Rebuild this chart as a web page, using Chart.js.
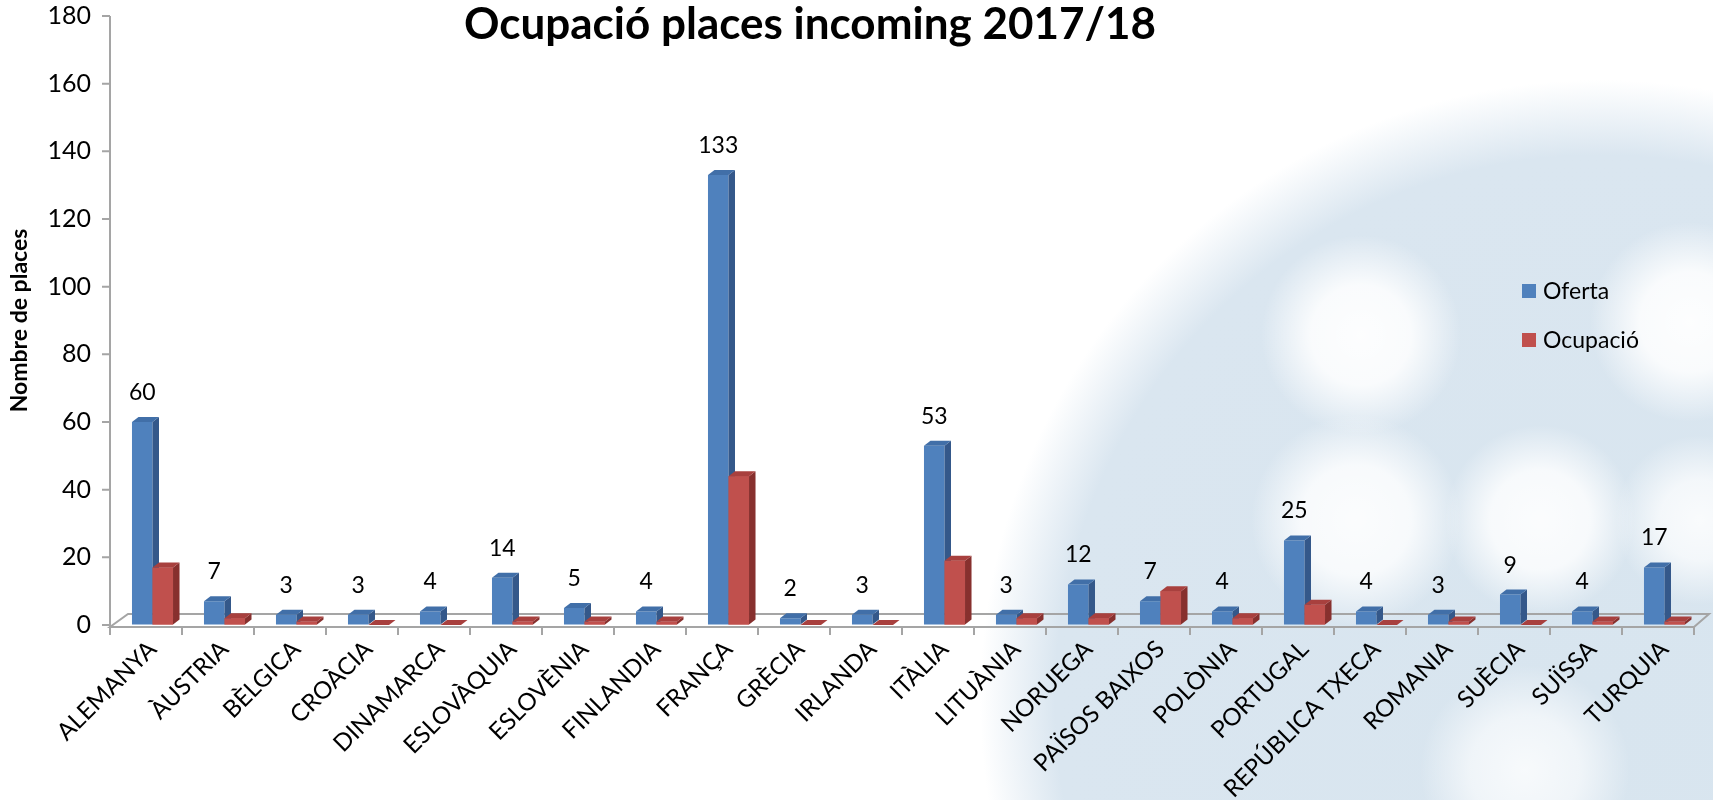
<!DOCTYPE html>
<html>
  <head>
    <meta charset="utf-8"/>
    <style>
      body {
        margin: 0;
        background:
          radial-gradient(circle at 1361px 335px, rgba(255,255,255,0.95) 0, rgba(255,255,255,0.85) 50px, rgba(255,255,255,0) 100px),
          radial-gradient(circle at 1690px 322px, rgba(255,255,255,0.95) 0, rgba(255,255,255,0.85) 50px, rgba(255,255,255,0) 100px),
          radial-gradient(circle at 1356px 520px, rgba(255,255,255,0.9) 0, rgba(255,255,255,0.8) 55px, rgba(255,255,255,0) 105px),
          radial-gradient(circle at 1540px 520px, rgba(255,255,255,0.9) 0, rgba(255,255,255,0.8) 50px, rgba(255,255,255,0) 95px),
          radial-gradient(circle at 1700px 520px, rgba(255,255,255,0.85) 0, rgba(255,255,255,0.7) 40px, rgba(255,255,255,0) 85px),
          radial-gradient(circle at 1525px 770px, rgba(255,255,255,0.8) 0, rgba(255,255,255,0.6) 55px, rgba(255,255,255,0) 105px),
          radial-gradient(circle at 1600px 700px, #d8e5ef 0, #dae6f0 545px, rgba(255,255,255,0) 620px),
          #ffffff;
      }
      #chart-holder { width: 1713px; height: 800px; }
    </style>
  </head>
  <body>
    <div id="chart-holder">
        <canvas id="chart-area" width="1713" height="800"></canvas>
    </div>

    <script src="https://cdn.jsdelivr.net/npm/chart.js@4.4.0/dist/chart.umd.min.js"></script>
    <script>
        var titleText = 'Ocupació places incoming 2017/18';
        var yTitle = 'Nombre de places';
        var countries = ['ALEMANYA', 'ÀUSTRIA', 'BÈLGICA', 'CROÀCIA', 'DINAMARCA', 'ESLOVÀQUIA',
                         'ESLOVÈNIA', 'FINLANDIA', 'FRANÇA', 'GRÈCIA', 'IRLANDA', 'ITÀLIA',
                         'LITUÀNIA', 'NORUEGA', 'PAÏSOS BAIXOS', 'POLÒNIA', 'PORTUGAL',
                         'REPÚBLICA TXECA', 'ROMANIA', 'SUÈCIA', 'SUÏSSA', 'TURQUIA'];
        var oferta   = [60, 7, 3, 3, 4, 14, 5, 4, 133, 2, 3, 53, 3, 12, 7, 4, 25, 4, 3, 9, 4, 17];
        var ocupacio = [17, 2, 1, 0, 0, 1, 1, 1, 44, 0, 0, 19, 2, 2, 10, 2, 6, 0, 1, 0, 1, 1];
        var yTicks = [0, 20, 40, 60, 80, 100, 120, 140, 160, 180];

        var FONT = 'Lato, "Open Sans", sans-serif';
        var AXIS_GREY = '#a5a5a5';

        // colours for the fake 3d faces: front, top, side
        var faces = [
            { front: '#4f81bd', top: '#416fa8', side: '#34588a' },
            { front: '#c0504d', top: '#a8403e', side: '#87302e' }
        ];
        var DX = 6.5, DY = 5;
        // the 3d view pushes the bars a little right of the front axis
        var SHIFT = 6.5;

        function drawFaces(ctx, p, f, withFront) {
            var l = p.x - p.width / 2, r = p.x + p.width / 2;
            if (withFront) {
                ctx.fillStyle = f.front;
                ctx.fillRect(l, p.y, p.width, p.base - p.y);
            }
            // side
            ctx.fillStyle = f.side;
            ctx.beginPath();
            ctx.moveTo(r, p.y);
            ctx.lineTo(r + DX, p.y - DY);
            ctx.lineTo(r + DX, p.base - DY);
            ctx.lineTo(r, p.base);
            ctx.closePath();
            ctx.fill();
            // top
            ctx.fillStyle = f.top;
            ctx.beginPath();
            ctx.moveTo(l, p.y);
            ctx.lineTo(l + DX, p.y - DY);
            ctx.lineTo(r + DX, p.y - DY);
            ctx.lineTo(r, p.y);
            ctx.closePath();
            ctx.fill();
        }

        var extras = {
            id: 'extras',
            beforeDatasetsDraw: function(chart) {
                var ctx = chart.ctx, a = chart.chartArea;
                var yScale = chart.scales.y;
                var left = a.left - SHIFT, right = a.right - SHIFT;
                ctx.save();
                ctx.strokeStyle = AXIS_GREY;
                ctx.lineWidth = 2;
                // floor of the 3d plot
                ctx.beginPath();
                ctx.moveTo(left, a.bottom + 2);
                ctx.lineTo(right, a.bottom + 2);
                ctx.lineTo(right + 15, a.bottom - 11);
                ctx.lineTo(left + 18, a.bottom - 11);
                ctx.closePath();
                ctx.stroke();
                // front y axis and its ticks
                ctx.beginPath();
                ctx.moveTo(left, a.top);
                ctx.lineTo(left, a.bottom + 2);
                yTicks.forEach(function(v) {
                    var py = yScale.getPixelForValue(v);
                    ctx.moveTo(left - 8, py);
                    ctx.lineTo(left, py);
                });
                // category ticks on the front edge
                var n = countries.length;
                for (var k = 0; k <= n; k++) {
                    var px = left + k * (right - left) / n;
                    ctx.moveTo(px, a.bottom + 2);
                    ctx.lineTo(px, a.bottom + 10);
                }
                ctx.stroke();
                ctx.restore();
            },
            afterDatasetsDraw: function(chart) {
                var ctx = chart.ctx;
                var blue = chart.getDatasetMeta(0).data;
                var red = chart.getDatasetMeta(1).data;
                ctx.save();
                // blue depth first, then the red bar sitting in front of it
                for (var i = 0; i < blue.length; i++) {
                    drawFaces(ctx, blue[i].getProps(['x', 'y', 'base', 'width'], true), faces[0], false);
                    drawFaces(ctx, red[i].getProps(['x', 'y', 'base', 'width'], true), faces[1], true);
                }
                // value labels on Oferta
                ctx.fillStyle = '#000';
                ctx.font = '23px ' + FONT;
                ctx.textAlign = 'center';
                ctx.textBaseline = 'alphabetic';
                blue.forEach(function(el, i) {
                    ctx.fillText(String(oferta[i]), el.x, el.y - 22);
                });
                // title
                ctx.font = 'bold 44px ' + FONT;
                ctx.fillText(titleText, 810, 39);
                // legend
                ctx.textAlign = 'left';
                ctx.textBaseline = 'middle';
                ctx.font = '23px ' + FONT;
                chart.data.datasets.forEach(function(ds, i) {
                    var cy = 291 + i * 49;
                    ctx.fillStyle = faces[i].front;
                    ctx.fillRect(1522, cy - 7, 14, 14);
                    ctx.fillStyle = '#000';
                    ctx.fillText(ds.label, 1543, cy + 1);
                });
                ctx.restore();
            }
        };

        var ctx = document.getElementById('chart-area').getContext('2d');
        var chart = new Chart(ctx, {
            type: 'bar',
            data: {
                labels: countries,
                datasets: [{
                    label: 'Oferta',
                    data: oferta,
                    backgroundColor: faces[0].front
                }, {
                    label: 'Ocupació',
                    data: ocupacio,
                    backgroundColor: faces[1].front
                }]
            },
            options: {
                responsive: false,
                animation: false,
                layout: { padding: { top: 16, right: 19 - SHIFT, left: 0, bottom: 0 } },
                datasets: {
                    bar: { categoryPercentage: 0.57, barPercentage: 1.0 }
                },
                plugins: {
                    legend: { display: false },
                    title: { display: false },
                    tooltip: { enabled: false }
                },
                scales: {
                    x: {
                        offset: true,
                        border: { display: false },
                        grid: {
                            offset: true,
                            drawOnChartArea: false,
                            color: 'rgba(0,0,0,0)',
                            tickLength: 9
                        },
                        ticks: {
                            autoSkip: false,
                            minRotation: 45,
                            maxRotation: 45,
                            padding: 1,
                            color: '#000',
                            font: { family: FONT, size: 24 }
                        },
                        afterFit: function(scale) { scale.height = 175; }
                    },
                    y: {
                        min: 0,
                        max: 180,
                        border: { display: false },
                        grid: {
                            drawOnChartArea: false,
                            color: 'rgba(0,0,0,0)',
                            tickLength: 8
                        },
                        afterBuildTicks: function(scale) {
                            scale.ticks = yTicks.map(function(v) { return { value: v }; });
                        },
                        ticks: {
                            padding: 11 + SHIFT,
                            color: '#000',
                            font: { family: FONT, size: 25 }
                        },
                        title: {
                            display: true,
                            text: yTitle,
                            color: '#000',
                            padding: { top: 6, bottom: 0 },
                            font: { family: FONT, size: 23, weight: 'bold' }
                        },
                        afterFit: function(scale) {
                            scale.width = 110 + SHIFT;
                            scale.paddingTop = 0;
                            scale.paddingBottom = 0;
                        }
                    }
                }
            },
            plugins: [extras]
        });
    </script>
  </body>
</html>
